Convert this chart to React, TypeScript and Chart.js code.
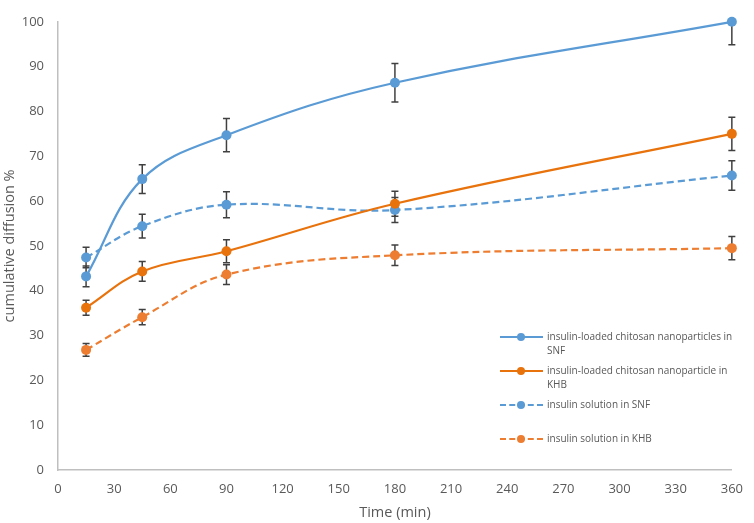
import { useEffect, useRef } from "react";
import { Chart, registerables } from "chart.js";

Chart.register(...registerables);

const timeMin = [15, 45, 90, 180, 360];
const nanoSNF = [43.2, 64.9, 74.7, 86.4, 100];
const nanoSNFErr = [2.3, 3.2, 3.7, 4.3, 5.1];
const nanoKHB = [36.2, 44.3, 48.8, 59.4, 75];
const nanoKHBErr = [1.7, 2.2, 2.55, 2.8, 3.7];
const solSNF = [47.4, 54.4, 59.2, 58.0, 65.7];
const solSNFErr = [2.3, 2.65, 2.9, 2.8, 3.3];
const solKHB = [26.8, 34.1, 43.6, 47.9, 49.5];
const solKHBErr = [1.4, 1.7, 2.2, 2.3, 2.6];

const seriesLabels = [
  "insulin-loaded chitosan nanoparticles in SNF",
  "insulin-loaded chitosan nanoparticle in KHB",
  "insulin solution in SNF",
  "insulin solution in KHB",
];
// legend text wrapped the way the original wraps it
const legendLines = [
  ["insulin-loaded chitosan nanoparticles in", "SNF"],
  ["insulin-loaded chitosan nanoparticle in", "KHB"],
  ["insulin solution in SNF"],
  ["insulin solution in KHB"],
];

const BLUE = "#5b9bd5";
const ORANGE = "#e8720c";
const ORANGE_LIGHT = "#ed7d31";
const FONT = "'Open Sans', sans-serif";

const errorBars = {
  id: "errorBars",
  beforeDatasetsDraw(chart: any) {
    const { ctx, chartArea } = chart;
    const y = chart.scales.y;
    ctx.save();
    ctx.beginPath();
    ctx.rect(chartArea.left - 10, chartArea.top, chartArea.right - chartArea.left + 20, chartArea.bottom - chartArea.top);
    ctx.clip();
    ctx.strokeStyle = "#404040";
    ctx.lineWidth = 1.5;
    chart.data.datasets.forEach((ds: any, di: number) => {
      const meta = chart.getDatasetMeta(di);
      meta.data.forEach((pt: any, i: number) => {
        const v = ds.data[i].y;
        const e = ds.errors[i];
        const top = y.getPixelForValue(v + e);
        const bot = y.getPixelForValue(v - e);
        ctx.beginPath();
        ctx.moveTo(pt.x, top);
        ctx.lineTo(pt.x, bot);
        ctx.moveTo(pt.x - 3.5, top);
        ctx.lineTo(pt.x + 3.5, top);
        ctx.moveTo(pt.x - 3.5, bot);
        ctx.lineTo(pt.x + 3.5, bot);
        ctx.stroke();
      });
    });
    ctx.restore();
  },
};

const toPoints = (vals: number[]) => vals.map((v, i) => ({ x: timeMin[i], y: v }));

const styles = [
  { color: BLUE, dash: [] as number[] },
  { color: ORANGE, dash: [] as number[] },
  { color: BLUE, dash: [7, 4] },
  { color: ORANGE_LIGHT, dash: [7, 4] },
];

export default function App() {
  const ref = useRef<HTMLCanvasElement>(null);
  useEffect(() => {
    document.body.style.margin = "0";
    const values = [nanoSNF, nanoKHB, solSNF, solKHB];
    const errs = [nanoSNFErr, nanoKHBErr, solSNFErr, solKHBErr];
    const chart = new Chart(ref.current!, {
      type: "line",
      data: {
        datasets: values.map((vals, k) => ({
          label: seriesLabels[k],
          data: toPoints(vals),
          errors: errs[k],
          borderColor: styles[k].color,
          backgroundColor: styles[k].color,
          borderDash: styles[k].dash,
          borderWidth: 2.2,
          pointRadius: 5,
          pointBorderWidth: 0,
          tension: 0.38,
          clip: false,
        })) as any,
      },
      options: {
        animation: false,
        responsive: false,
        layout: { padding: { top: 7, right: 15, left: 0, bottom: 0 } },
        plugins: { legend: { display: false }, tooltip: { enabled: false } },
        scales: {
          x: {
            type: "linear",
            min: 0,
            max: 360,
            grid: { display: false, drawTicks: false },
            border: { color: "#bfbfbf", width: 1.5 },
            ticks: { stepSize: 30, padding: 11, color: "#595959", font: { family: FONT, size: 13 } },
            title: { display: true, text: "Time (min)", color: "#595959", font: { family: FONT, size: 14.5 }, padding: { top: 0, bottom: 1 } },
            afterFit: (s: any) => { s.height = 53; },
          },
          y: {
            min: 0,
            max: 100,
            grid: { display: false, drawTicks: false },
            border: { color: "#bfbfbf", width: 1.5 },
            ticks: { stepSize: 10, padding: 14, color: "#595959", font: { family: FONT, size: 13 } },
            title: { display: true, text: "cumulative diffusion %", color: "#595959", font: { family: FONT, size: 14.5 }, padding: { top: 1, bottom: 0 } },
            afterFit: (s: any) => { s.width = 58; },
          },
        },
      },
      plugins: [errorBars],
    });
    return () => chart.destroy();
  }, []);

  const rowTop = [329, 363, 397, 431];
  return (
    <div style={{ position: "relative", width: 754, height: 523, background: "#fff" }}>
      <canvas ref={ref} width={754} height={523} style={{ display: "block" }} />
      {legendLines.map((lines, k) => (
        <div key={k} style={{ position: "absolute", left: 500, top: rowTop[k], display: "flex", alignItems: "flex-start" }}>
          <div style={{ position: "relative", width: 43, height: 14, flexShrink: 0 }}>
            <div
              style={{
                position: "absolute",
                left: 0,
                right: 0,
                top: 6.5,
                borderTop: `2px ${styles[k].dash.length ? "dashed" : "solid"} ${styles[k].color}`,
              }}
            />
            <div
              style={{
                position: "absolute",
                left: 17,
                top: 3.5,
                width: 8,
                height: 8,
                borderRadius: "50%",
                background: styles[k].color,
              }}
            />
          </div>
          <div style={{ marginLeft: 4, fontFamily: FONT, fontSize: 10, lineHeight: "14px", color: "#595959", whiteSpace: "nowrap" }}>
            {lines.map((l, i) => (
              <div key={i}>{l}</div>
            ))}
          </div>
        </div>
      ))}
    </div>
  );
}
